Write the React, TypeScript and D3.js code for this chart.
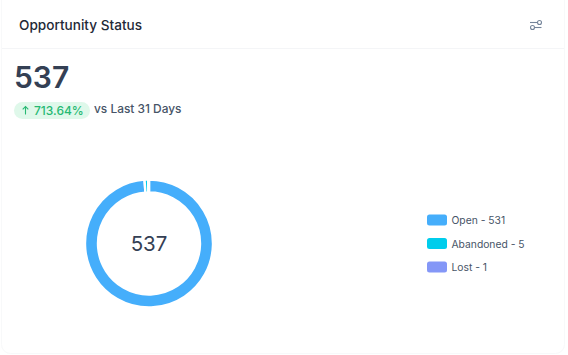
import React from "react";
import * as d3 from "d3";

const categories = ["Open", "Abandoned", "Lost"];
const seriesValues = [531, 5, 1];
const colors = ["#45AEFB", "#00CDEC", "#8497F7"];
const total = "537";
const title = "Opportunity Status";
const delta = "713.64%";
const compare = "vs Last 31 Days";

const W = 568;
const H = 355;
const font = "Inter, 'Noto Sans', sans-serif";

export default function App() {
  const pie = d3.pie<number>().sort(null).startAngle(0).endAngle(2 * Math.PI);
  const arc = d3.arc<d3.PieArcDatum<number>>().innerRadius(51).outerRadius(64);
  const arcs = pie(seriesValues);
  const legendY = d3.scalePoint<string>().domain(categories).range([220, 267]);
  return (
    <svg width={W} height={H} viewBox={`0 0 ${W} ${H}`} style={{ position: "absolute", left: 0, top: 0, background: "#fff", fontFamily: font }}>
      <rect x={1.5} y={-8} width={563} height={361.5} rx={9} fill="#fff" stroke="#F8F9FA" />
      <line x1={2} x2={564} y1={48.5} y2={48.5} stroke="#F4F5F7" />
      <text x={19} y={30} fontSize={13.6} fontWeight={500} fill="#1F2937">{title}</text>
      <g stroke="#74849A" strokeWidth={1.1} fill="none">
        <line x1={530} x2={537} y1={22.5} y2={22.5} />
        <circle cx={539.5} cy={22.5} r={2} />
        <circle cx={532.5} cy={27.5} r={2} />
        <line x1={534.5} x2={541.5} y1={27.5} y2={27.5} />
      </g>
      <text x={14} y={88} fontSize={30} fontWeight={600} fill="#344054">{total}</text>
      <rect x={14} y={102} width={76} height={17} rx={8.5} fill="#DFF8EA" />
      <g stroke="#27B973" strokeWidth={1.1} fill="none">
        <line x1={25.5} x2={25.5} y1={106.5} y2={114.5} />
        <path d="M22.7 109.3 L25.5 106.5 L28.3 109.3" />
      </g>
      <text x={34} y={115} fontSize={12} fontWeight={500} fill="#27B973">{delta}</text>
      <text x={94} y={113} fontSize={11.9} fontWeight={500} fill="#475467">{compare}</text>
      <g transform="translate(149,243.5)">
        {arcs.map((a, i) => (
          <path key={categories[i]} d={arc(a) ?? ""} fill={colors[i]} stroke="#fff" strokeWidth={2.4} />
        ))}
        <text x={0} y={7} textAnchor="middle" fontSize={20.5} fontWeight={400} fill="#344054">{total}</text>
      </g>
      {categories.map((c, i) => (
        <g key={c} transform={`translate(427,${legendY(c)})`}>
          <rect x={0} y={-5.5} width={20} height={11} rx={2.5} fill={colors[i]} />
          <text x={24.5} y={4} fontSize={10.3} fill="#475467">{`${c} - ${seriesValues[i]}`}</text>
        </g>
      ))}
    </svg>
  );
}
